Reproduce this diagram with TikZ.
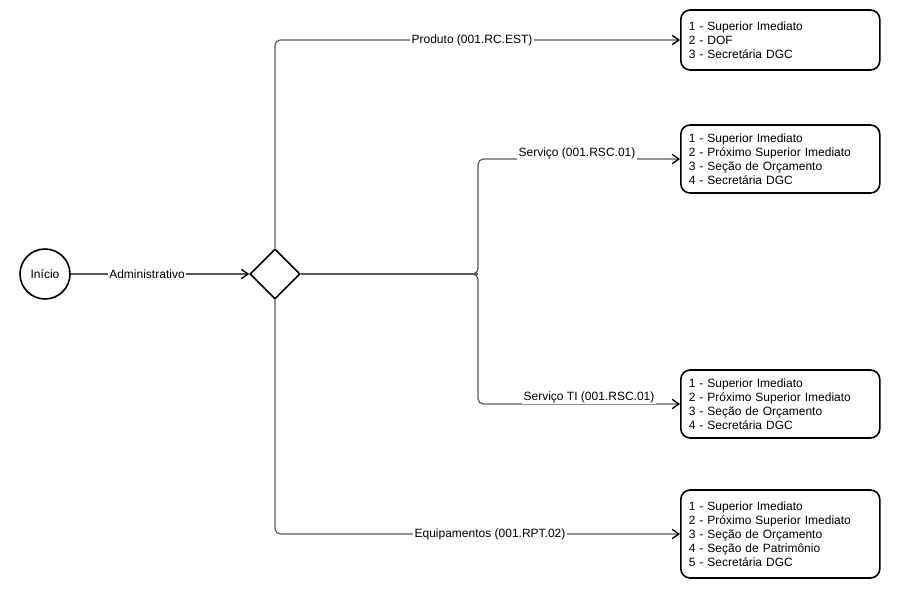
\documentclass[tikz,border=0pt]{standalone}
\usepackage{fontspec}
\setmainfont{Liberation Sans}
\usetikzlibrary{arrows.meta,shapes.geometric}
\begin{document}
\begin{tikzpicture}[x=0.75pt,y=-0.75pt,
  every node/.style={font=\fontsize{9pt}{10.5pt}\selectfont},
  conn/.style={draw=black!65,line width=0.9pt,rounded corners=4pt,-{Straight Barb[length=5pt,width=7pt,line width=1pt]},arrows={[color=black]}},
  plain/.style={draw=black!65,line width=0.9pt,rounded corners=4pt},
  elabel/.style={fill=white,inner sep=1pt,text=black},
  startev/.style={circle,draw=black,line width=1.2pt,minimum size=50*0.75pt,inner sep=0pt},
  gateway/.style={diamond,draw=black,line width=1.2pt,minimum width=50*0.75pt,minimum height=50*0.75pt,inner sep=0pt},
  listbox/.style={draw=black,line width=1.2pt,rounded corners=7pt,minimum width=199*0.75pt,align=left,anchor=west,text width=183*0.75pt,inner xsep=8*0.75pt}
]
\useasboundingbox (0,0) rectangle (905,600);
\node[startev] (ini) at (45,274) {Início};
\node[gateway] (gw) at (275,274) {};
\node[listbox,minimum height=60*0.75pt] (b1) at (680,40) {1 - Superior Imediato\\2 - DOF\\3 - Secretária DGC};
\node[listbox,minimum height=68*0.75pt] (b2) at (680,159) {1 - Superior Imediato\\2 - Próximo Superior Imediato\\3 - Seção de Orçamento\\4 - Secretária DGC};
\node[listbox,minimum height=68*0.75pt] (b3) at (680,404) {1 - Superior Imediato\\2 - Próximo Superior Imediato\\3 - Seção de Orçamento\\4 - Secretária DGC};
\node[listbox,minimum height=88*0.75pt] (b4) at (680,534) {1 - Superior Imediato\\2 - Próximo Superior Imediato\\3 - Seção de Orçamento\\4 - Seção de Patrimônio\\5 - Secretária DGC};
\coordinate (split) at (478,274);
% start -> gateway
\draw[conn] (ini) -- (gw.west);
\node[elabel] (la) at (147,274) {Administrativo};
% top branch
\draw[conn] (gw.north) -- (275,40) -- (b1.west);
\node[elabel] (lp) at (472,40) {Produto (001.RC.EST)};
% middle branches
\draw[plain] (gw.east) -- (split);
\draw[conn] (split) ++(-10,0) -- (split) -- (478,159) -- (b2.west);
\draw[conn] (split) ++(-10,0) -- (split) -- (478,404) -- (b3.west);
\node[elabel] (ls) at (577,153) {Serviço (001.RSC.01)};
\node[elabel] (lt) at (589,397) {Serviço TI (001.RSC.01)};
% bottom branch
\draw[conn] (gw.south) -- (275,534) -- (b4.west);
\node[elabel] (le) at (490,534) {Equipamentos (001.RPT.02)};
\end{tikzpicture}
\end{document}
